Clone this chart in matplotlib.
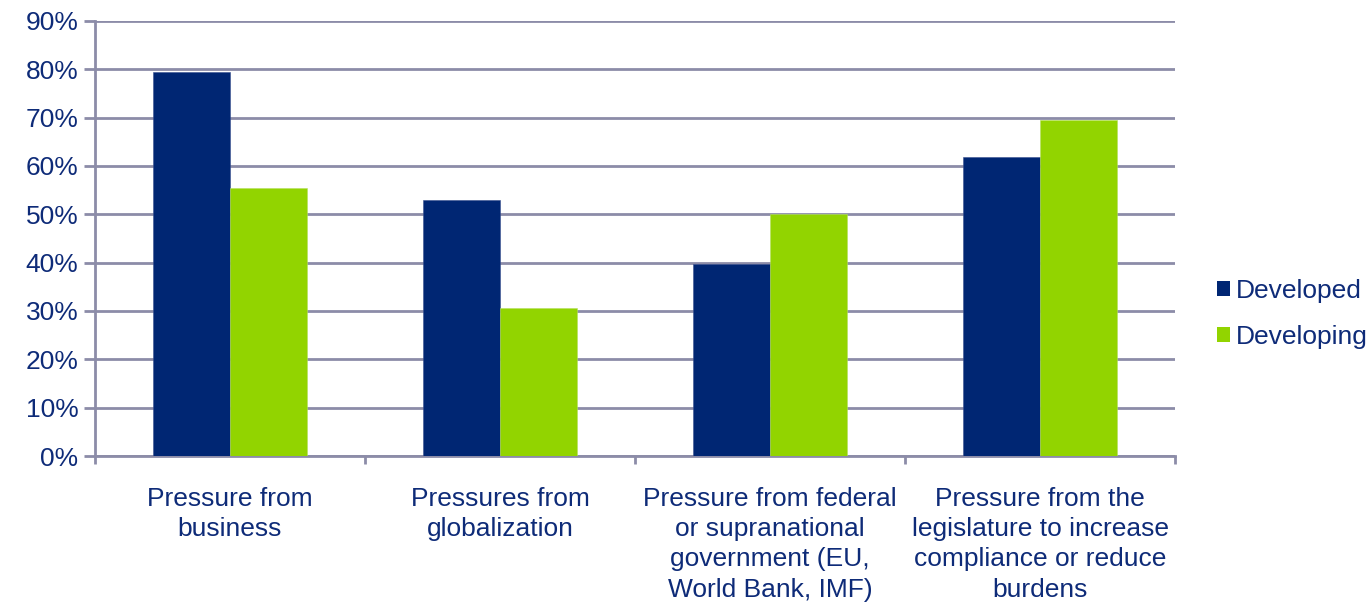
import matplotlib
matplotlib.use("Agg")
import matplotlib.pyplot as plt
from matplotlib.patches import Patch
import numpy as np

categories = [
    "Pressure from\nbusiness",
    "Pressures from\nglobalization",
    "Pressure from federal\nor supranational\ngovernment (EU,\nWorld Bank, IMF)",
    "Pressure from the\nlegislature to increase\ncompliance or reduce\nburdens",
]
developed = [79.5, 53.0, 39.7, 61.9]
developing = [55.5, 30.6, 50.0, 69.5]
series_names = ["Developed", "Developing"]
yticks = [0, 10, 20, 30, 40, 50, 60, 70, 80, 90]

navy = "#002673"
green = "#92D400"
text_col = "#0E2B78"
grid_col = "#8C8CA8"
fs = 19

plt.rcParams["font.family"] = ["Liberation Sans", "DejaVu Sans"]

fig = plt.figure(figsize=(13.72, 6.05), dpi=100)
ax = fig.add_axes([95/1372, 149/605, 1080/1372, 435/605])

x = np.arange(len(categories))
w = 77/270
ax.bar(x - w/2, developed, width=w, color=navy, edgecolor="#3a5090", linewidth=0.4, zorder=3)
ax.bar(x + w/2, developing, width=w, color=green, edgecolor="#b5e060", linewidth=0.4, zorder=3)

ax.set_xlim(-0.5, len(categories) - 0.5)
ax.set_ylim(0, 90)
ax.set_yticks(yticks)
ax.set_yticklabels([f"{v}%" for v in yticks], fontsize=fs, color=text_col)
ax.yaxis.grid(True, color=grid_col, linewidth=2, zorder=0)
ax.tick_params(axis="y", length=8, width=2, color=grid_col, pad=4)

ax.set_xticks(np.arange(-0.5, len(categories), 1.0))
ax.set_xticklabels([])
ax.set_xticks(x, minor=True)
ax.set_xticklabels(categories, minor=True, fontsize=fs, color=text_col, linespacing=1.34)
ax.tick_params(axis="x", which="major", length=6, width=2, color=grid_col)
ax.tick_params(axis="x", which="minor", length=0, pad=22)

for s in ["top", "right"]:
    ax.spines[s].set_visible(False)
for s in ["left", "bottom"]:
    ax.spines[s].set_color(grid_col)
    ax.spines[s].set_linewidth(2)

handles = [Patch(facecolor=navy), Patch(facecolor=green)]
leg = fig.legend(handles, series_names, loc="center left", bbox_to_anchor=(1193/1372, 1 - 314/605),
                 frameon=False, fontsize=fs, handlelength=0.5, handleheight=0.5,
                 handletextpad=0.22, labelspacing=0.82)
for t in leg.get_texts():
    t.set_color(text_col)

fig.savefig("out.png", dpi=100)
